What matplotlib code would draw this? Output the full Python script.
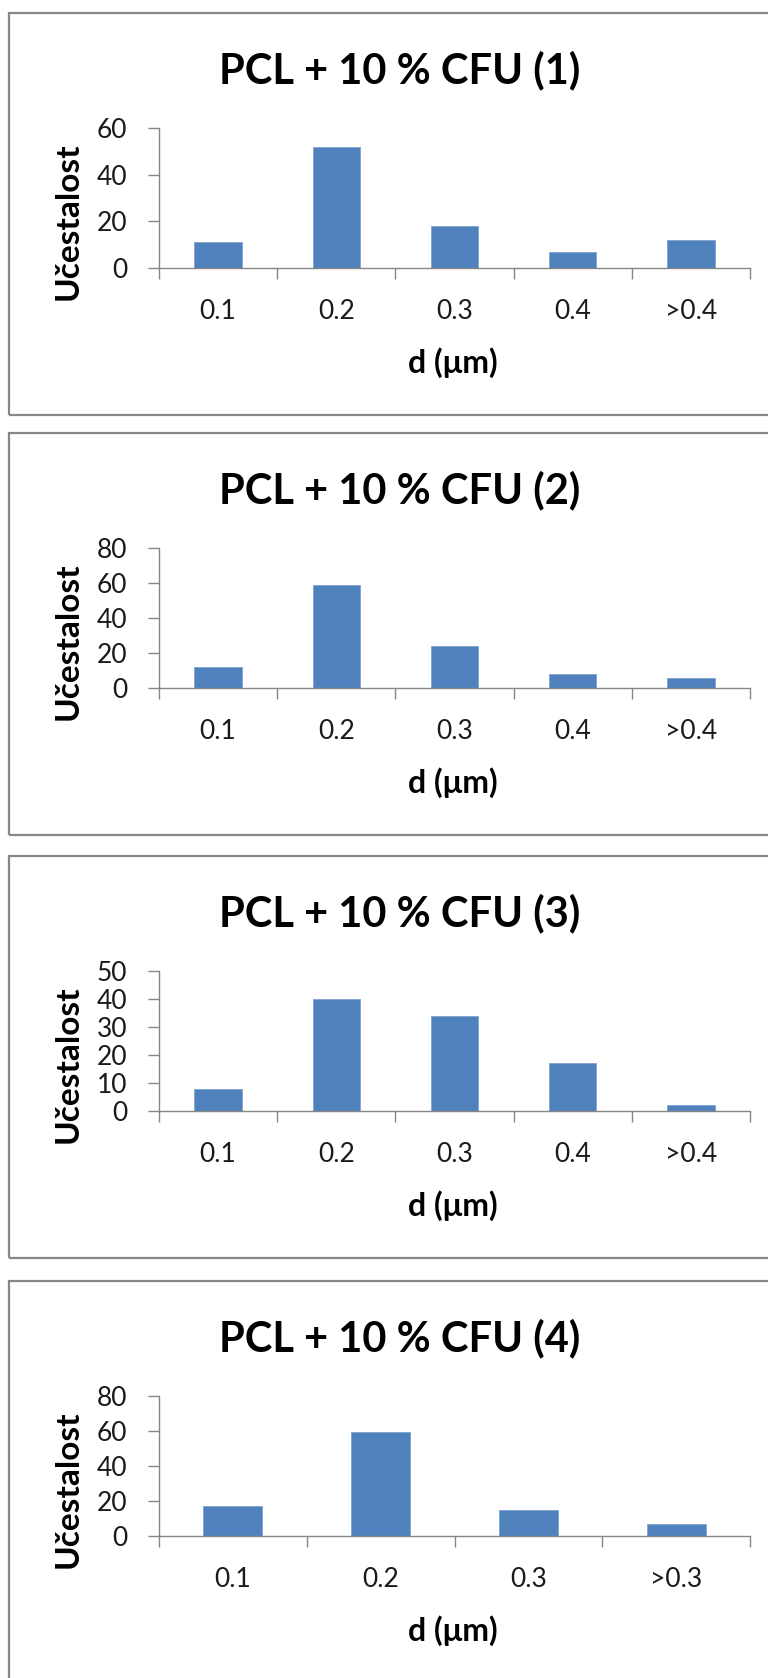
import matplotlib
matplotlib.use("Agg")
import matplotlib.pyplot as plt
from matplotlib.patches import Rectangle

plt.rcParams['font.family'] = ['Lato', 'DejaVu Sans']

titles = ["PCL + 10 % CFU (1)", "PCL + 10 % CFU (2)", "PCL + 10 % CFU (3)", "PCL + 10 % CFU (4)"]
cats_1 = ["0.1", "0.2", "0.3", "0.4", ">0.4"]
cats_2 = ["0.1", "0.2", "0.3", "0.4", ">0.4"]
cats_3 = ["0.1", "0.2", "0.3", "0.4", ">0.4"]
cats_4 = ["0.1", "0.2", "0.3", ">0.3"]
vals_1 = [11, 52, 18, 7, 12]
vals_2 = [12, 59, 24, 8, 6]
vals_3 = [8, 40, 34, 17, 2]
vals_4 = [17, 59.5, 15, 7]
ymax = [60, 80, 50, 80]
ystep = [20, 20, 10, 20]
ylabel = "Učestalost"
xlabel = "d (μm)"

cats = [cats_1, cats_2, cats_3, cats_4]
vals = [vals_1, vals_2, vals_3, vals_4]

W, H = 768, 1678
fig = plt.figure(figsize=(W / 100, H / 100), dpi=100)

def fx(x):
    return x / W

def fy(y):
    return 1 - y / H

tops = [13, 433, 856, 1281]
BAR = "#4F81BD"
GRID = "#868686"

for i in range(4):
    T = tops[i]
    # outer chart frame
    fig.patches.append(Rectangle((fx(9), fy(T + 402)), fx(800), 402 / H,
                                 transform=fig.transFigure, fill=False,
                                 edgecolor="#878787", linewidth=1.6))
    ax_left, ax_right = 159, 750
    y_top, y_bot = T + 115, T + 255
    ax = fig.add_axes([fx(ax_left), fy(y_bot), (ax_right - ax_left) / W, (y_bot - y_top) / H])
    n = len(cats[i])
    xs = list(range(n))
    ax.bar(xs, vals[i], width=0.4, color=BAR, edgecolor="#7FA3D1", linewidth=0.6)
    ax.set_xlim(-0.5, n - 0.5)
    ax.set_ylim(0, ymax[i])
    ax.set_yticks(list(range(0, ymax[i] + 1, ystep[i])))
    ax.set_xticks(xs)
    ax.set_xticklabels(cats[i])
    ax.set_xticks([k - 0.5 for k in range(n + 1)], minor=True)
    ax.tick_params(axis='x', which='major', length=0, pad=22, labelsize=19, colors="#1a1a1a")
    ax.tick_params(axis='x', which='minor', length=8, width=1, color=GRID, direction='out')
    ax.tick_params(axis='y', which='major', length=8, width=1, color=GRID, pad=15,
                   labelsize=19, labelcolor="#1a1a1a", direction='out')
    for s in ['top', 'right']:
        ax.spines[s].set_visible(False)
    for s in ['left', 'bottom']:
        ax.spines[s].set_color(GRID)
        ax.spines[s].set_linewidth(1)
    ax.patch.set_alpha(0)

    fig.text(fx(400), fy(T + 70), titles[i], ha='center', va='baseline',
             fontsize=30, fontweight='bold', color='black')
    fig.text(fx(78), fy(T + 208), ylabel, ha='center', va='baseline', rotation=90,
             rotation_mode='anchor', fontsize=24, fontweight='bold', color='black')
    fig.text(fx(453), fy(T + 360), xlabel, ha='center', va='baseline',
             fontsize=23, fontweight='bold', color='black')

fig.savefig("out.png", dpi=100)
